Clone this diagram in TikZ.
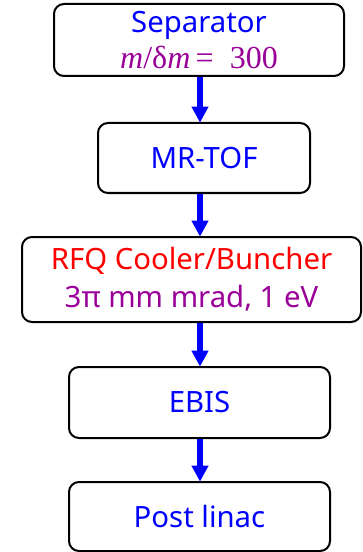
\documentclass[tikz,border=0pt]{standalone}
\usepackage{fontspec}
\setmainfont{Noto Sans}
\newfontfamily\timesf{Liberation Serif}
\usetikzlibrary{arrows.meta}
\definecolor{stagepurple}{RGB}{153,0,153}
\begin{document}
\begin{tikzpicture}[x=0.75pt,y=0.75pt,yscale=-1,xscale=1]
    \tikzset{
      stagebox/.style={draw=black, line width=1.5pt, rounded corners=7.5pt, align=center, inner sep=0pt,
                       font=\fontsize{22}{28.5}\selectfont},
      flow/.style={draw=blue, line width=4.5pt, -{Triangle[length=12pt,width=12pt]}, shorten >=-0.5pt}
    }
    \useasboundingbox (0,0) rectangle (362,552);
    % Stages
    \node [stagebox, minimum width=217.5pt, minimum height=54pt] (sep) at (199,40)
          {\textcolor{blue}{Separator}\\[-1.5pt]\textcolor{stagepurple}{\fontsize{24}{28}\timesf\textit{m}/δ\textit{m}\,= \ 300}};
    \node [stagebox, minimum width=159pt, minimum height=52.5pt] (mrtof) at (204,158) {\textcolor{blue}{MR-TOF}};
    \node [stagebox, minimum width=254.25pt, minimum height=63.75pt] (rfq) at (191.5,279.5)
          {\textcolor{red}{RFQ Cooler/Buncher}\\\textcolor{stagepurple}{3π mm mrad, 1 eV}};
    \node [stagebox, minimum width=195.75pt, minimum height=53.25pt] (ebis) at (199.5,402.5) {\textcolor{blue}{EBIS}};
    \node [stagebox, minimum width=195.75pt, minimum height=51.75pt] (post) at (199.5,516.5) {\textcolor{blue}{Post linac}};
    % Flow
    \coordinate (col) at (200,0);
    \draw [flow] (sep.south -| col) -- (mrtof.north -| col);
    \draw [flow] (mrtof.south -| col) -- (rfq.north -| col);
    \draw [flow] (rfq.south -| col) -- (ebis.north -| col);
    \draw [flow] (ebis.south -| col) -- (post.north -| col);
\end{tikzpicture}
\end{document}
